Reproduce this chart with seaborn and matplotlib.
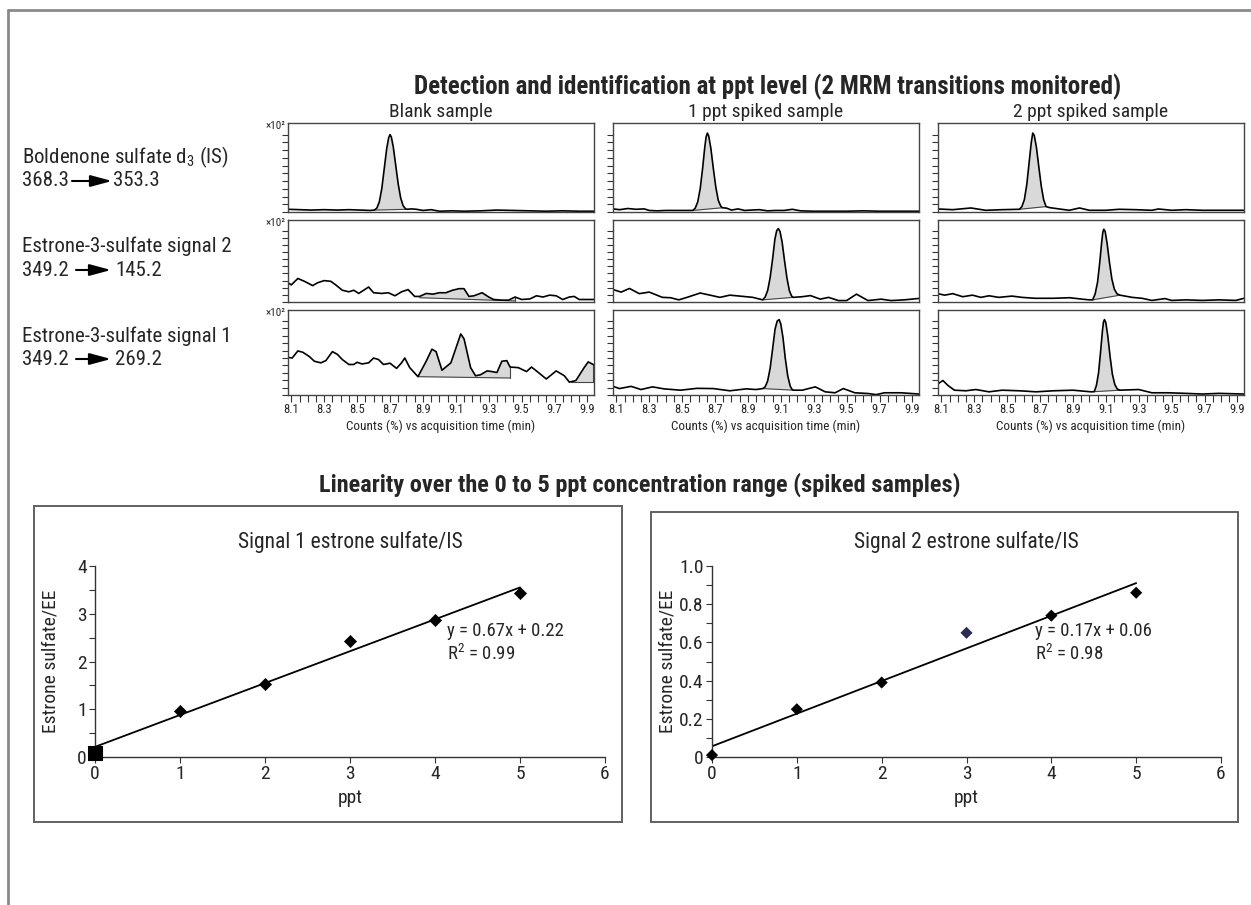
import numpy as np
import matplotlib
matplotlib.use('Agg')
import matplotlib.pyplot as plt
from matplotlib.patches import Rectangle, FancyArrowPatch
from matplotlib.lines import Line2D
from matplotlib.ticker import MultipleLocator, FixedLocator
import seaborn as sns

sns.set_theme(style='white')
plt.rcParams['font.family'] = ['Roboto Condensed', 'DejaVu Sans']
plt.rcParams['font.stretch'] = 'condensed'
plt.rcParams['mathtext.fontset'] = 'custom'
plt.rcParams['mathtext.rm'] = 'Roboto Condensed'

# ---- chromatogram traces (time min, counts x10^2) ----
blank_is = [(8.08, 0.35), (8.15, 0.3), (8.22, 0.25), (8.30, 0.3), (8.38, 0.25), (8.45, 0.3), (8.52, 0.25),
            (8.58, 0.2), (8.605, 0.25), (8.62, 0.5), (8.635, 1.3), (8.65, 3.0), (8.665, 5.6), (8.68, 8.2),
            (8.692, 9.6), (8.70, 10.0), (8.708, 9.7), (8.72, 8.4), (8.735, 6.0), (8.75, 3.6), (8.765, 1.8),
            (8.78, 0.8), (8.795, 0.4), (8.805, 0.35), (8.83, 0.4), (8.86, 0.35), (8.90, 0.2), (8.95, 0.3),
            (9.00, 0.1), (9.08, 0.15), (9.15, 0.1), (9.25, 0.15), (9.35, 0.25), (9.45, 0.2), (9.55, 0.15),
            (9.65, 0.1), (9.75, 0.15), (9.85, 0.1), (9.94, 0.1)]
blank_s2 = [(8.08, 2.7), (8.10, 2.4), (8.14, 3.3), (8.18, 2.9), (8.23, 2.3), (8.26, 2.7), (8.30, 3.0), (8.34, 2.9),
            (8.37, 2.4), (8.41, 1.65), (8.45, 1.43), (8.48, 1.65), (8.51, 1.2), (8.54, 1.65), (8.57, 2.1),
            (8.60, 1.3), (8.65, 1.2), (8.69, 1.3), (8.73, 0.87), (8.77, 1.43), (8.81, 1.74), (8.85, 0.78),
            (8.88, 0.78), (8.92, 1.2), (8.96, 1.1), (9.00, 1.3), (9.04, 1.3), (9.08, 1.65), (9.12, 1.87),
            (9.15, 1.87), (9.18, 0.78), (9.21, 0.87), (9.26, 1.3), (9.30, 0.7), (9.33, 0.35), (9.38, 0.26),
            (9.42, 0.26), (9.46, 0.7), (9.50, 0.35), (9.55, 0.43), (9.59, 0.87), (9.63, 0.7), (9.67, 0.96),
            (9.71, 0.87), (9.75, 0.35), (9.79, 0.7), (9.82, 0.78), (9.85, 0.35), (9.94, 0.35)]
blank_s1 = [(8.08, 5.1), (8.105, 5.0), (8.14, 5.96), (8.17, 5.78), (8.21, 5.2), (8.24, 4.57), (8.28, 4.35),
            (8.31, 4.65), (8.35, 5.87), (8.38, 5.5), (8.41, 4.8), (8.45, 4.13), (8.48, 4.13), (8.50, 4.43),
            (8.53, 4.2), (8.57, 4.35), (8.60, 5.0), (8.63, 4.8), (8.66, 4.13), (8.70, 4.3), (8.74, 3.6),
            (8.77, 4.35), (8.79, 5.0), (8.82, 3.7), (8.87, 2.48), (8.92, 4.57), (8.955, 6.2), (8.98, 5.87),
            (9.016, 3.35), (9.07, 4.35), (9.10, 6.3), (9.13, 8.26), (9.15, 7.6), (9.19, 3.7), (9.22, 2.6),
            (9.25, 2.74), (9.29, 3.26), (9.32, 3.17), (9.35, 3.04), (9.38, 4.57), (9.41, 4.65), (9.43, 3.78),
            (9.48, 3.7), (9.53, 3.17), (9.56, 3.78), (9.59, 3.26), (9.65, 2.17), (9.71, 3.26), (9.76, 2.6),
            (9.79, 1.74), (9.83, 1.96), (9.88, 3.7), (9.905, 4.48), (9.935, 4.13)]

ppt1_is = [(8.08, 0.4), (8.12, 0.3), (8.17, 0.45), (8.22, 0.35), (8.27, 0.4), (8.30, 0.2), (8.35, 0.15),
           (8.40, 0.2), (8.45, 0.2), (8.50, 0.2), (8.54, 0.2), (8.565, 0.2), (8.58, 0.5), (8.595, 1.3),
           (8.61, 3.0), (8.625, 5.7), (8.638, 8.4), (8.646, 9.7), (8.654, 10.2), (8.662, 9.8), (8.675, 8.2),
           (8.69, 5.6), (8.705, 3.2), (8.72, 1.5), (8.735, 0.75), (8.745, 0.55), (8.77, 0.5), (8.80, 0.25),
           (8.84, 0.4), (8.88, 0.2), (8.92, 0.25), (8.97, 0.3), (9.02, 0.15), (9.07, 0.2), (9.12, 0.2),
           (9.17, 0.35), (9.22, 0.15), (9.30, 0.1), (9.40, 0.1), (9.50, 0.1), (9.60, 0.15), (9.70, 0.1),
           (9.80, 0.1), (9.94, 0.1)]
ppt1_s2 = [(8.08, 1.74), (8.13, 1.39), (8.18, 1.9), (8.24, 1.17), (8.30, 1.39), (8.38, 0.65), (8.43, 0.6),
           (8.48, 0.3), (8.53, 0.65), (8.61, 1.26), (8.67, 0.96), (8.73, 0.65), (8.79, 0.96), (8.85, 0.83),
           (8.93, 0.65), (8.99, 0.3), (9.005, 0.7), (9.02, 1.6), (9.035, 3.4), (9.05, 6.0), (9.064, 8.8),
           (9.075, 10.0), (9.085, 10.3), (9.095, 9.9), (9.108, 8.4), (9.122, 5.9), (9.137, 3.4), (9.152, 1.6),
           (9.165, 0.85), (9.175, 0.65), (9.23, 0.74), (9.28, 0.9), (9.34, 0.4), (9.39, 0.65), (9.45, 0.2),
           (9.50, 0.2), (9.56, 1.1), (9.63, 0.2), (9.71, 0.4), (9.77, 0.2), (9.85, 0.3), (9.94, 0.5)]
ppt1_s1 = [(8.08, 1.17), (8.12, 0.87), (8.19, 1.17), (8.25, 0.74), (8.32, 1.1), (8.39, 0.83), (8.49, 0.65),
           (8.59, 0.9), (8.69, 0.87), (8.79, 0.57), (8.89, 0.83), (8.95, 0.74), (8.99, 0.87), (9.005, 1.1),
           (9.02, 1.9), (9.035, 3.6), (9.05, 6.2), (9.065, 8.9), (9.078, 10.0), (9.09, 10.2), (9.10, 9.6),
           (9.113, 7.8), (9.127, 5.0), (9.142, 2.6), (9.157, 1.2), (9.17, 0.7), (9.18, 0.65), (9.23, 0.65),
           (9.31, 1.1), (9.37, 0.43), (9.43, 0.3), (9.48, 0.87), (9.55, 0.3), (9.63, 0.2), (9.68, 0.05),
           (9.73, 0.3), (9.83, 0.3), (9.94, 0.13)]

ppt2_is = [(8.08, 0.39), (8.17, 0.3), (8.28, 0.52), (8.37, 0.22), (8.47, 0.3), (8.575, 0.35), (8.59, 0.7),
           (8.605, 1.6), (8.62, 3.6), (8.635, 6.6), (8.647, 9.0), (8.656, 10.2), (8.665, 9.9), (8.678, 8.4),
           (8.693, 5.8), (8.708, 3.3), (8.722, 1.6), (8.737, 0.7), (8.757, 0.57), (8.818, 0.39), (8.878, 0.22),
           (8.94, 0.52), (9.0, 0.22), (9.1, 0.22), (9.18, 0.35), (9.28, 0.3), (9.38, 0.22), (9.42, 0.39),
           (9.5, 0.22), (9.586, 0.3), (9.687, 0.22), (9.94, 0.22)]
ppt2_s2 = [(8.08, 1.17), (8.12, 0.96), (8.17, 1.17), (8.23, 0.74), (8.29, 0.96), (8.34, 0.65), (8.39, 0.87),
           (8.45, 0.65), (8.53, 0.83), (8.59, 0.65), (8.67, 0.52), (8.78, 0.52), (8.88, 0.6), (8.96, 0.39),
           (9.0, 0.3), (9.02, 0.3), (9.035, 1.1), (9.05, 2.8), (9.063, 5.5), (9.075, 8.4), (9.082, 9.8),
           (9.088, 10.2), (9.096, 9.9), (9.108, 8.2), (9.122, 5.6), (9.137, 3.2), (9.152, 1.8), (9.168, 1.15),
           (9.186, 0.96), (9.26, 0.65), (9.32, 0.52), (9.38, 0.22), (9.46, 0.48), (9.50, 0.22), (9.586, 0.3),
           (9.687, 0.22), (9.79, 0.3), (9.89, 0.22), (9.94, 0.52)]
ppt2_s1 = [(8.08, 1.52), (8.11, 1.96), (8.14, 1.3), (8.18, 0.65), (8.25, 0.57), (8.31, 0.74), (8.39, 0.43),
           (8.47, 0.65), (8.575, 0.57), (8.677, 0.43), (8.78, 0.57), (8.9, 0.65), (9.01, 0.43), (9.03, 0.45),
           (9.043, 1.3), (9.056, 3.0), (9.068, 5.8), (9.08, 8.8), (9.086, 9.9), (9.092, 10.2), (9.10, 9.8),
           (9.112, 8.0), (9.126, 5.2), (9.14, 2.8), (9.155, 1.4), (9.17, 0.8), (9.186, 0.65), (9.30, 0.74),
           (9.38, 0.3), (9.48, 0.3), (9.586, 0.22), (9.687, 0.13), (9.79, 0.22), (9.94, 0.13)]

# integrated regions: (t start, baseline start, t end, baseline end)
blank_is_int = [(8.605, 0.25, 8.805, 0.35)]
blank_s2_int = [(8.88, 0.6, 9.46, 0.15)]
blank_s1_int = [(8.87, 2.48, 9.43, 2.3), (9.80, 1.7, 9.935, 1.7)]
ppt1_is_int = [(8.565, 0.2, 8.745, 0.55)]
ppt1_s2_int = [(8.99, 0.3, 9.175, 0.65)]
ppt1_s1_int = [(8.99, 0.87, 9.18, 0.65)]
ppt2_is_int = [(8.575, 0.35, 8.737, 0.7)]
ppt2_s2_int = [(9.02, 0.3, 9.186, 0.96)]
ppt2_s1_int = [(9.03, 0.45, 9.186, 0.65)]

col_titles = ['Blank sample', '1 ppt spiked sample', '2 ppt spiked sample']
row_names = ['Boldenone sulfate d$_3$ (IS)', 'Estrone-3-sulfate signal 2', 'Estrone-3-sulfate signal 1']
row_precursor = ['368.3', '349.2', '349.2']
row_product = ['353.3', '145.2', '269.2']
time_ticks = [8.1, 8.3, 8.5, 8.7, 8.9, 9.1, 9.3, 9.5, 9.7, 9.9]

# ---- calibration data ----
ppt = [0, 1, 2, 3, 4, 5]
signal1 = [0.08, 0.96, 1.53, 2.42, 2.87, 3.43]
signal2 = [0.01, 0.25, 0.39, 0.65, 0.74, 0.86]

W, H = 1251, 905
fig = plt.figure(figsize=(W / 100, H / 100), dpi=100)
fig.patch.set_facecolor('white')


def rect(l, t, r, b):
    return [l / W, 1 - b / H, (r - l) / W, (b - t) / H]


def fx(x):
    return x / W


def fy(y):
    return 1 - y / H


# outer frame (top and left only)
fig.add_artist(Line2D([fx(8), fx(8)], [fy(10), 0], color='#8a8a8a', lw=2))
fig.add_artist(Line2D([fx(8), 1], [fy(10), fy(10)], color='#8a8a8a', lw=2))

fig.text(fx(768), fy(87), 'Detection and identification at ppt level (2 MRM transitions monitored)',
         ha='center', va='center', fontsize=18, fontweight='bold')

traces = [[blank_is, ppt1_is, ppt2_is], [blank_s2, ppt1_s2, ppt2_s2], [blank_s1, ppt1_s1, ppt2_s1]]
integ = [[blank_is_int, ppt1_is_int, ppt2_is_int], [blank_s2_int, ppt1_s2_int, ppt2_s2_int],
         [blank_s1_int, ppt1_s1_int, ppt2_s1_int]]
col_left = [288, 613, 938]
row_top = [123, 220, 310]
row_bot = [212, 302, 395]
pw = 306

for c in range(3):
    fig.text(fx(col_left[c] + pw / 2), fy(112), col_titles[c], ha='center', va='center', fontsize=14)
    for r in range(3):
        ax = fig.add_axes(rect(col_left[c], row_top[r], col_left[c] + pw, row_bot[r]))
        t = np.array([p[0] for p in traces[r][c]])
        v = np.array([p[1] for p in traces[r][c]])
        for (t0, b0, t1, b1) in integ[r][c]:
            m = (t >= t0) & (t <= t1)
            tt = np.concatenate([[t0], t[m], [t1]])
            vv = np.interp(tt, t, v)
            base = np.interp(tt, [t0, t1], [b0, b1])
            ax.fill_between(tt, base, vv, color='#d9d9d9', lw=0)
            ax.plot([t0, t1], [b0, b1], color='#444444', lw=0.8)
            ax.plot([t1, t1], [b1, vv[-1]], color='#444444', lw=0.8)
        sns.lineplot(x=t, y=v, ax=ax, color='black', lw=1.2, estimator=None, sort=False)
        ax.set_xlim(8.08, 9.94)
        ax.set_ylim(0, 11.5)
        ax.yaxis.set_major_locator(FixedLocator(range(11)))
        ax.set_yticklabels([])
        ax.tick_params(axis='y', left=True, direction='out', length=4, width=0.8, color='#333333', pad=1)
        for s in ax.spines.values():
            s.set_color('#444444')
            s.set_linewidth(1.0)
        ax.set_xlabel('')
        ax.set_ylabel('')
        if r == 2:
            ax.set_xticks(time_ticks)
            ax.set_xticklabels([f'{x:.1f}' for x in time_ticks], fontsize=9)
            ax.xaxis.set_minor_locator(MultipleLocator(0.05))
            ax.tick_params(axis='x', which='both', bottom=True, direction='out', length=5, width=0.8,
                           color='#333333', pad=1)
            ax.set_xlabel('Counts (%) vs acquisition time (min)', fontsize=9.5, labelpad=2)
        else:
            ax.set_xticks([])
        if c == 0:
            fig.text(fx(col_left[c] - 3), fy(row_top[r] + 3), '×10²', ha='right', va='center', fontsize=8)

# row labels with arrows
name_y = [157, 246, 336]
num_y = [181, 270, 359]
arrow_x = [(72, 112), (76, 111), (76, 111)]
prod_x = [113, 115, 115]
for r in range(3):
    fig.text(fx(22), fy(name_y[r]), row_names[r], ha='left', va='center', fontsize=15)
    fig.text(fx(22), fy(num_y[r]), row_precursor[r], ha='left', va='center', fontsize=15)
    fig.text(fx(prod_x[r]), fy(num_y[r]), row_product[r], ha='left', va='center', fontsize=15)
    fig.add_artist(FancyArrowPatch((fx(arrow_x[r][0]), fy(num_y[r])), (fx(arrow_x[r][1]), fy(num_y[r])),
                                   transform=fig.transFigure, arrowstyle='-|>,head_length=1.3,head_width=0.35',
                                   mutation_scale=10, lw=1.5, color='black', shrinkA=0, shrinkB=0))

# ---- linearity panels ----
fig.text(fx(640), fy(485), 'Linearity over the 0 to 5 ppt concentration range (spiked samples)',
         ha='center', va='center', fontsize=17.5, fontweight='bold')

fig.add_artist(Rectangle((fx(34), fy(822)), fx(622 - 34), (822 - 506) / H, transform=fig.transFigure,
                         fill=False, edgecolor='#555555', lw=1.3))
fig.add_artist(Rectangle((fx(651), fy(822)), fx(1238 - 651), (822 - 512) / H, transform=fig.transFigure,
                         fill=False, edgecolor='#555555', lw=1.3))

specs = [
    dict(box=(95, 566, 605, 757), y=signal1, ymax=4, major=1, minor=0.5,
         title='Signal 1 estrone sulfate/IS', eq='y = 0.67x + 0.22\nR$^2$ = 0.99', eqx=447,
         labels=['0', '1', '2', '3', '4']),
    dict(box=(712, 566, 1221, 757), y=signal2, ymax=1.0, major=0.2, minor=0.1,
         title='Signal 2 estrone sulfate/IS', eq='y = 0.17x + 0.06\nR$^2$ = 0.98', eqx=1035,
         labels=['0', '0.2', '0.4', '0.6', '0.8', '1.0']),
]

for i, sp in enumerate(specs):
    l, t, r, b = sp['box']
    ax = fig.add_axes(rect(l, t, r, b))
    sns.regplot(x=ppt, y=sp['y'], ax=ax, scatter=False, ci=None, color='black', line_kws={'lw': 1.3})
    if i == 0:
        sns.scatterplot(x=ppt[1:], y=sp['y'][1:], ax=ax, marker='D', s=38, color='black', edgecolor='black',
                        clip_on=False, zorder=5)
        sns.scatterplot(x=ppt[:1], y=sp['y'][:1], ax=ax, marker='s', s=95, color='black', edgecolor='black',
                        clip_on=False, zorder=5)
    else:
        colors = ['black', 'black', 'black', '#2a2a55', 'black', 'black']
        sns.scatterplot(x=ppt, y=sp['y'], ax=ax, marker='D', s=38, hue=list(range(6)),
                        palette=colors, edgecolor='none', legend=False, clip_on=False, zorder=5)
    ax.set_xlim(0, 6)
    ax.set_ylim(0, sp['ymax'])
    ax.set_xticks(ppt + [6])
    ax.set_xticklabels([str(x) for x in ppt + [6]])
    yt = [k * sp['major'] for k in range(len(sp['labels']))]
    ax.set_yticks(yt)
    ax.set_yticklabels(sp['labels'])
    ax.yaxis.set_minor_locator(MultipleLocator(sp['minor']))
    ax.tick_params(axis='both', which='both', direction='out', length=4, width=0.8, color='#333333',
                   labelsize=14, pad=2, left=True, bottom=True)
    ax.tick_params(axis='x', which='minor', bottom=False)
    for s in ['top', 'right']:
        ax.spines[s].set_visible(False)
    for s in ['left', 'bottom']:
        ax.spines[s].set_color('#333333')
        ax.spines[s].set_linewidth(1.0)
    ax.set_xlabel('ppt', fontsize=14, labelpad=4)
    ax.set_ylabel('Estrone sulfate/EE', fontsize=14)
    ax.yaxis.set_label_coords(-0.07, 0.5)
    ax.set_title(sp['title'], fontsize=15.5, pad=13)
    fig.text(fx(sp['eqx']), fy(643), sp['eq'], ha='left', va='center', fontsize=13.5, linespacing=1.2)

fig.savefig('out.png', dpi=100, facecolor='white')
